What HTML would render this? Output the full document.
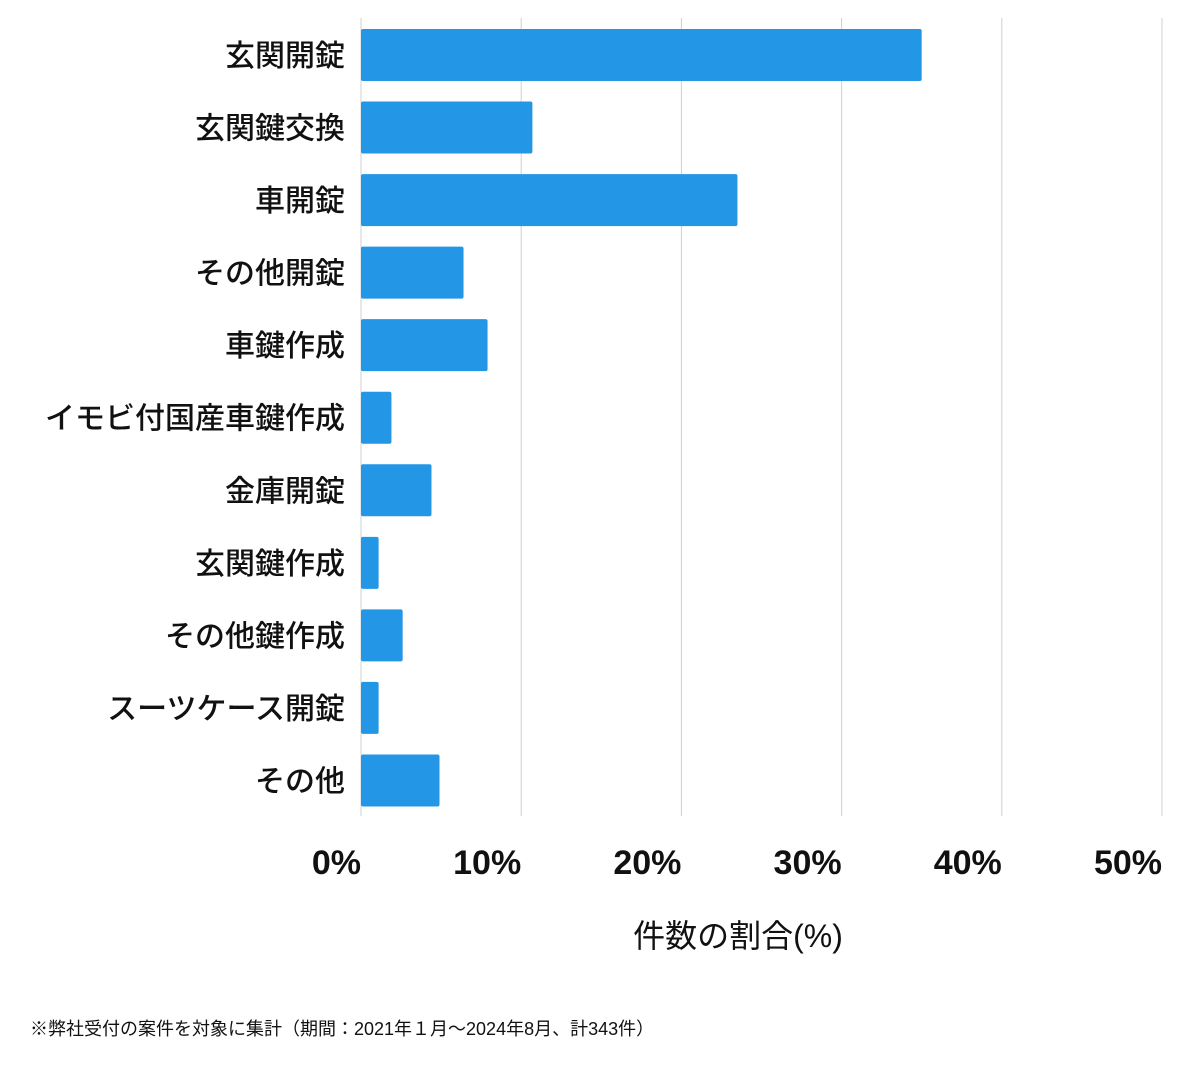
<!DOCTYPE html>
<html><head><meta charset="utf-8"><style>
body{margin:0;background:#fff;width:1200px;height:1069px;overflow:hidden;font-family:"Liberation Sans","Noto Sans CJK JP",sans-serif}
</style></head><body>
<svg width="1200" height="1069" id="chart" xmlns="http://www.w3.org/2000/svg"></svg>
<script>
const categories=["玄関開錠","玄関鍵交換","車開錠","その他開錠","車鍵作成","イモビ付国産車鍵作成","金庫開錠","玄関鍵作成","その他鍵作成","スーツケース開錠","その他"];
const values=[35.0,10.7,23.5,6.4,7.9,1.9,4.4,1.1,2.6,1.1,4.9];
const ticks=[0,10,20,30,40,50];
const tickLabels=["0%","10%","20%","30%","40%","50%"];
const svg=document.getElementById('chart');
const NS="http://www.w3.org/2000/svg";
const x0=361,x1=1162,yTop=18,yBot=816,xMax=50;
const xs=v=>x0+(v/xMax)*(x1-x0);
const band=(yBot-yTop)/categories.length;
const ys=i=>yTop+i*band+11;
const bh=52;
function mk(t,a){const e=document.createElementNS(NS,t);for(const k in a)e.setAttribute(k,a[k]);svg.appendChild(e);return e;}
ticks.forEach((t,i)=>{
 const g=mk('line',{x1:xs(t),x2:xs(t),y1:yTop,y2:yBot,stroke:'#d0d0d0','stroke-width':1});
 
 
 const tx=mk('text',{x:xs(t),y:874,'text-anchor':'end','font-size':34,'font-weight':'bold',fill:'#111'});
 tx.textContent=tickLabels[i];
 
 
});
categories.forEach((c,i)=>{
 const r=mk('rect',{x:x0,y:ys(i),width:xs(values[i])-x0,height:bh,fill:'#2496e6',rx:2});
 
 
 const t=mk('text',{x:345,y:ys(i)+bh/2+11,'text-anchor':'end','font-size':30,'font-weight':500,fill:'#111'});
 t.textContent=c;
 
 
});
const ax=mk('text',{x:738,y:947,'text-anchor':'middle','font-size':32,fill:'#111'});
ax.textContent='件数の割合(%)';


const fn=mk('text',{x:30,y:1035,'font-size':18,fill:'#111'});
fn.textContent='※弊社受付の案件を対象に集計（期間：2021年１月～2024年8月、計343件）';


</script>
</body></html>
